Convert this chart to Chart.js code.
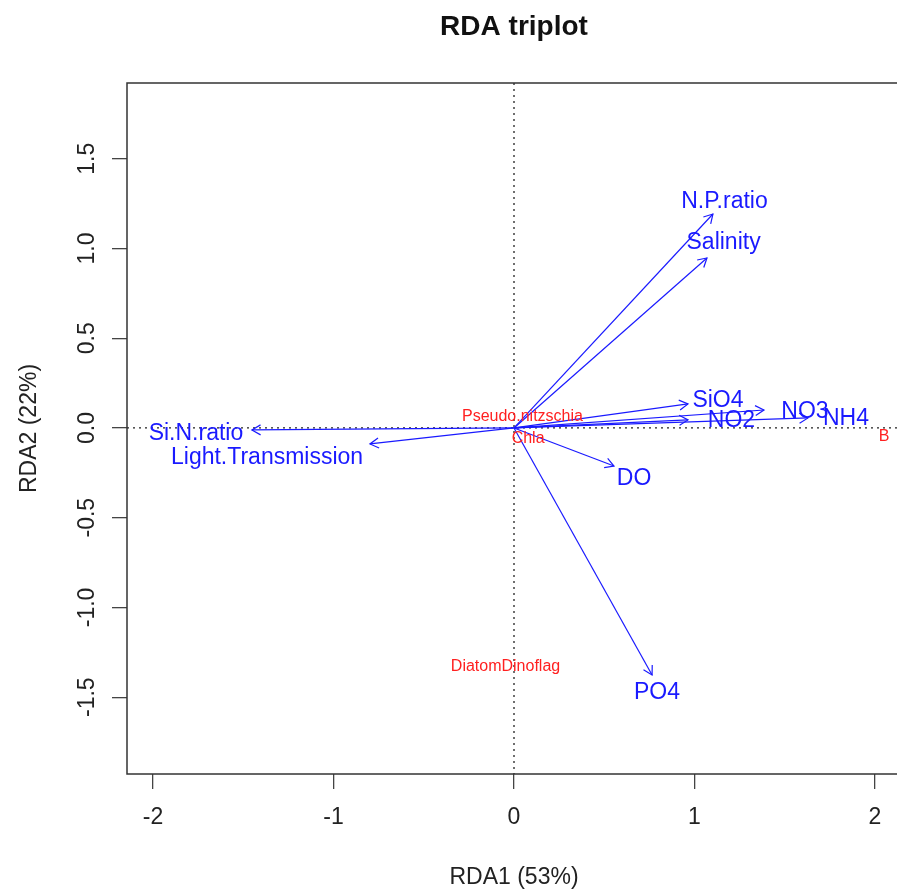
<!DOCTYPE html>
<html>
<head>
<meta charset="utf-8">
<script src="https://cdn.jsdelivr.net/npm/chart.js@4.4.1/dist/chart.umd.min.js"></script>
<style>
  html, body { margin: 0; padding: 0; background: #fff; overflow: hidden; }
  #wrap { width: 897px; height: 891px; overflow: hidden; }
  #c { display: block; }
</style>
</head>
<body>
<div id="wrap"><canvas id="c" width="905" height="891"></canvas></div>
<script>
// --- axes ---
const xRange = [-2.144, 2.144];
const yRange = [-1.928, 1.922];
const xTicks = [-2, -1, 0, 1, 2];
const yTicks = [-1.5, -1.0, -0.5, 0.0, 0.5, 1.0, 1.5];

// --- environmental variables (arrows) ---
const envNames  = ['N.P.ratio', 'Salinity', 'SiO4', 'NO3', 'NH4', 'NO2', 'Si.N.ratio', 'Light.Transmission', 'DO', 'PO4'];
const envX      = [1.102, 1.069, 0.964, 1.385, 1.629, 0.964, -1.452, -0.798, 0.554, 0.765];
const envY      = [1.192, 0.947, 0.134, 0.100, 0.056, 0.045, -0.011, -0.089, -0.212, -1.376];
const envLabelX = [1.166, 1.161, 1.130, 1.612, 1.839, 1.205, -1.762, -1.368, 0.665, 0.792];
const envLabelY = [1.259, 1.031, 0.150, 0.089, 0.050, 0.039, -0.033, -0.167, -0.284, -1.476];

// --- species ---
const sppNames = ['Pseudo.nitzschia', 'Chla', 'DiatomDinoflag'];
const sppX = [0.047, 0.078, -0.047];
const sppY = [0.061, -0.061, -1.331];

// --- sites ---
const siteNames = ['B'];
const siteX = [2.05];
const siteY = [-0.05];

const FONT = '"Liberation Sans", Arial, sans-serif';
const BLUE = '#1a1aff';
const RED = '#ff2020';

const triplot = {
  id: 'triplot',
  beforeDatasetsDraw(chart) {
    const { ctx, chartArea: a, scales: { x, y } } = chart;
    const x0 = x.getPixelForValue(0), y0 = y.getPixelForValue(0);
    ctx.save();
    ctx.setLineDash([2, 4]);
    ctx.strokeStyle = '#222';
    ctx.lineWidth = 1.3;
    ctx.beginPath();
    ctx.moveTo(x0, a.top); ctx.lineTo(x0, a.bottom);
    ctx.moveTo(a.left, y0); ctx.lineTo(a.right, y0);
    ctx.stroke();
    ctx.restore();
  },
  afterDatasetsDraw(chart) {
    const { ctx, scales: { x, y } } = chart;
    const x0 = x.getPixelForValue(0), y0 = y.getPixelForValue(0);
    ctx.save();
    // arrow heads
    ctx.strokeStyle = BLUE;
    ctx.lineWidth = 1.2;
    envX.forEach((vx, i) => {
      const px = x.getPixelForValue(vx), py = y.getPixelForValue(envY[i]);
      const ang = Math.atan2(py - y0, px - x0);
      const len = 10;
      ctx.beginPath();
      ctx.moveTo(px - len * Math.cos(ang - Math.PI / 6), py - len * Math.sin(ang - Math.PI / 6));
      ctx.lineTo(px, py);
      ctx.lineTo(px - len * Math.cos(ang + Math.PI / 6), py - len * Math.sin(ang + Math.PI / 6));
      ctx.stroke();
    });
    ctx.textAlign = 'center';
    ctx.textBaseline = 'middle';
    // arrow labels
    ctx.fillStyle = BLUE;
    ctx.font = '23px ' + FONT;
    envNames.forEach((n, i) => {
      ctx.fillText(n, x.getPixelForValue(envLabelX[i]), y.getPixelForValue(envLabelY[i]));
    });
    // species + sites
    ctx.fillStyle = RED;
    ctx.font = '16px ' + FONT;
    sppNames.forEach((n, i) => {
      ctx.fillText(n, x.getPixelForValue(sppX[i]), y.getPixelForValue(sppY[i]));
    });
    siteNames.forEach((n, i) => {
      ctx.fillText(n, x.getPixelForValue(siteX[i]), y.getPixelForValue(siteY[i]));
    });
    ctx.restore();
  },
  afterDraw(chart) {
    const { ctx, chartArea: a, scales: { y } } = chart;
    ctx.save();
    // frame
    ctx.strokeStyle = '#333';
    ctx.lineWidth = 1.5;
    ctx.strokeRect(a.left, a.top, a.right - a.left, a.bottom - a.top);
    // y tick labels, rotated like R
    ctx.fillStyle = '#222';
    ctx.font = '23px ' + FONT;
    ctx.textAlign = 'center';
    ctx.textBaseline = 'middle';
    yTicks.forEach(v => {
      ctx.save();
      ctx.translate(a.left - 39, y.getPixelForValue(v));
      ctx.rotate(-Math.PI / 2);
      ctx.fillText(v.toFixed(1), 0, 0);
      ctx.restore();
    });
    // title
    ctx.fillStyle = '#111';
    ctx.font = 'bold 28px ' + FONT;
    ctx.fillText('RDA triplot', (a.left + a.right) / 2, 27);
    ctx.restore();
  }
};

const datasets = envNames.map((n, i) => ({
  label: n,
  data: [{ x: 0, y: 0 }, { x: envX[i], y: envY[i] }],
  showLine: true,
  borderColor: BLUE,
  borderWidth: 1.2,
  pointRadius: 0
}));

new Chart(document.getElementById('c'), {
  type: 'scatter',
  data: { datasets },
  options: {
    responsive: false,
    animation: false,
    layout: { padding: { top: 83, right: 4, left: 0, bottom: 0 } },
    plugins: { legend: { display: false }, tooltip: { enabled: false }, title: { display: false } },
    scales: {
      x: {
        type: 'linear',
        min: xRange[0], max: xRange[1],
        afterBuildTicks: s => { s.ticks = xTicks.map(v => ({ value: v })); },
        afterFit: s => { s.height = 117; },
        grid: { drawOnChartArea: false, tickLength: 15, color: '#444', lineWidth: 1.3 },
        border: { display: false },
        ticks: { color: '#222', font: { family: FONT, size: 23 }, padding: 15, maxRotation: 0, callback: v => String(v) },
        title: { display: true, text: 'RDA1 (53%)', color: '#222', font: { family: FONT, size: 23 }, padding: { top: 0, bottom: 0 } }
      },
      y: {
        type: 'linear',
        min: yRange[0], max: yRange[1],
        afterBuildTicks: s => { s.ticks = yTicks.map(v => ({ value: v })); },
        afterFit: s => { s.width = 127; },
        grid: { drawOnChartArea: false, tickLength: 15, color: '#444', lineWidth: 1.3 },
        border: { display: false },
        ticks: { color: 'rgba(0,0,0,0)', font: { family: FONT, size: 23 } },
        title: { display: true, text: 'RDA2 (22%)', color: '#222', font: { family: FONT, size: 23 }, padding: { top: 16, bottom: 0 } }
      }
    }
  },
  plugins: [triplot]
});
</script>
</body>
</html>
